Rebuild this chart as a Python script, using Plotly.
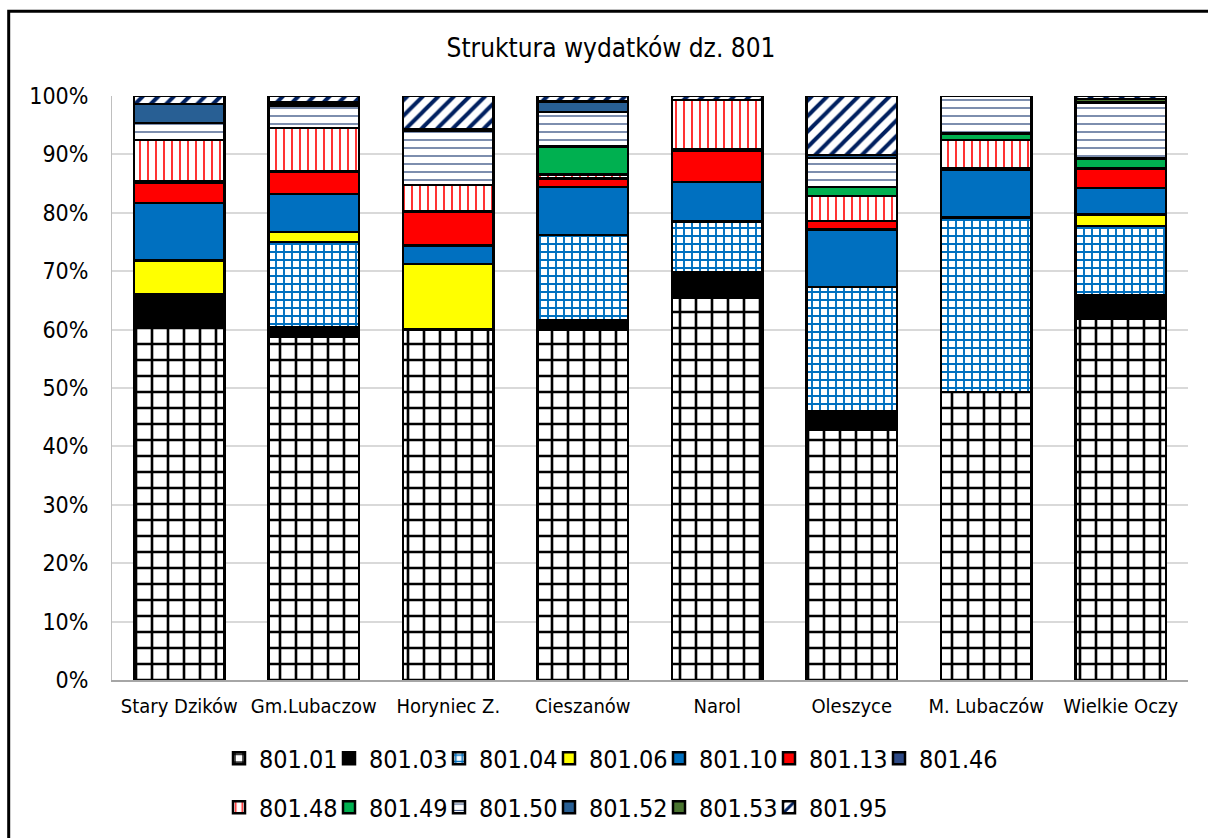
import plotly.graph_objects as go

categories = ["Stary Dzików", "Gm.Lubaczow", "Horyniec Z.", "Cieszanów",
              "Narol", "Oleszyce", "M. Lubaczów", "Wielkie Oczy"]

s_801_01 = [60.5, 58.8, 60.0, 59.9, 65.6, 42.8, 49.3, 61.9]
s_801_03 = [5.4, 1.5, None, 1.7, 4.3, 3.1, None, 4.0]
s_801_04 = [None, 14.6, None, 14.5, 8.7, 21.3, 29.8, 11.9]
s_801_06 = [5.8, 1.7, 11.2, None, None, None, None, 2.0]
s_801_10 = [9.8, 6.5, 3.2, 8.2, 6.8, 9.9, 8.2, 4.5]
s_801_13 = [3.4, 3.9, 5.8, 1.5, 5.4, 1.4, None, 3.4]
s_801_46 = [0.3, None, None, None, 0.2, None, 0.3, None]
s_801_48 = [7.1, 7.4, 4.6, 0.7, 8.4, 4.3, 4.8, None]
s_801_49 = [None, None, None, 4.8, None, 1.5, 1.1, 1.7]
s_801_50 = [2.9, 3.9, 9.2, 5.9, None, 5.0, 6.4, 9.6]
s_801_52 = [3.2, 0.3, None, 1.8, None, 0.5, None, None]
s_801_53 = [None, 0.3, 0.3, None, None, None, None, 0.6]
s_801_95 = [1.4, 1.0, 5.7, 0.9, 0.7, 10.1, None, 0.5]

series_names = ["801.01", "801.03", "801.04", "801.06", "801.10", "801.13", "801.46",
                "801.48", "801.49", "801.50", "801.52", "801.53", "801.95"]
series_values = [s_801_01, s_801_03, s_801_04, s_801_06, s_801_10, s_801_13, s_801_46,
                 s_801_48, s_801_49, s_801_50, s_801_52, s_801_53, s_801_95]

FONT = "DejaVu Sans Condensed, Noto Sans, DejaVu Sans, sans-serif"

def pat(shape, fg, size, solidity, fgopacity=1):
    return dict(shape=shape, fgcolor=fg, bgcolor="white", size=size, solidity=solidity,
                fgopacity=fgopacity, fillmode="replace")

styles = {
    "801.01": dict(color="white", pattern=pat("+", "black", 16, 0.3)),
    "801.03": dict(color="black"),
    "801.04": dict(color="white", pattern=pat("+", "#0070C0", 8, 0.42)),
    "801.06": dict(color="#FFFF00"),
    "801.10": dict(color="#0070C0"),
    "801.13": dict(color="#FF0000"),
    "801.46": dict(color="#2E4A86"),
    "801.48": dict(color="white", pattern=pat("|", "#FF0000", 8, 0.2)),
    "801.49": dict(color="#00B050"),
    "801.50": dict(color="white", pattern=pat("-", "#002060", 8, 0.17, 0.75)),
    "801.52": dict(color="#285F94"),
    "801.53": dict(color="#4A7530"),
    "801.95": dict(color="white", pattern=pat("/", "#002060", 11, 0.36)),
}

fig = go.Figure()
for i, (name, vals) in enumerate(zip(series_names, series_values)):
    st = styles[name]
    marker = dict(color=st["color"], line=dict(color="black", width=2.5))
    if "pattern" in st:
        marker["pattern"] = st["pattern"]
    kw = {}
    if name in ("801.46", "801.95"):
        kw["legendwidth"] = 100
    fig.add_trace(go.Bar(
        x=categories, y=vals, name=name, marker=marker,
        legend="legend" if i < 7 else "legend2", **kw
    ))

W, H = 1208, 838
L, R, T, B = 112, 20, 96, 158
pw, ph = W - L - R, H - T - B

def px_x(p):
    return (p - L) / pw

def px_y(p):
    return (H - B - p) / ph

legend_common = dict(
    orientation="h", xanchor="left", yanchor="middle", traceorder="normal",
    font=dict(family=FONT, size=25, color="black"),
    entrywidth=65, entrywidthmode="pixels",
    bgcolor="rgba(0,0,0,0)", itemclick=False,
)

fig.update_layout(
    width=W, height=H, autosize=False,
    margin=dict(l=L, r=R, t=T, b=B, autoexpand=False),
    barmode="stack", barnorm="percent", bargap=0.33,
    paper_bgcolor="white", plot_bgcolor="white",
    font=dict(family=FONT, color="black"),
    title=dict(text="Struktura wydatków dz. 801", x=px_x(611), xref="paper", xanchor="center",
               y=1 - 47.5 / H, yref="container", yanchor="middle",
               font=dict(family=FONT, size=26, color="black")),
    legend=dict(x=px_x(219), y=px_y(758.5), **legend_common),
    legend2=dict(x=px_x(219), y=px_y(807.5), **legend_common),
    xaxis=dict(showline=True, linecolor="#A6A6A6", linewidth=1.5, ticks="",
               tickfont=dict(family=FONT, size=20, color="black"), showgrid=False,
               ticklabelstandoff=7),
    yaxis=dict(range=[0, 100], dtick=10, ticksuffix="%", showline=True, linecolor="#BFBFBF", linewidth=1,
               gridcolor="#D9D9D9", gridwidth=1.5, zeroline=False,
               tickfont=dict(family=FONT, size=23, color="black"), ticklabelstandoff=18),
    shapes=[dict(type="rect", xref="paper", yref="paper",
                 x0=px_x(8.7), x1=px_x(1216), y0=px_y(846), y1=px_y(11.3),
                 line=dict(color="black", width=3), fillcolor="rgba(0,0,0,0)", layer="above")],
)

fig.write_html(
    "out.html",
    config={"displayModeBar": False},
    post_script="document.body.style.margin='0';document.body.style.padding='0';"
                "document.documentElement.style.overflow='hidden';",
)
